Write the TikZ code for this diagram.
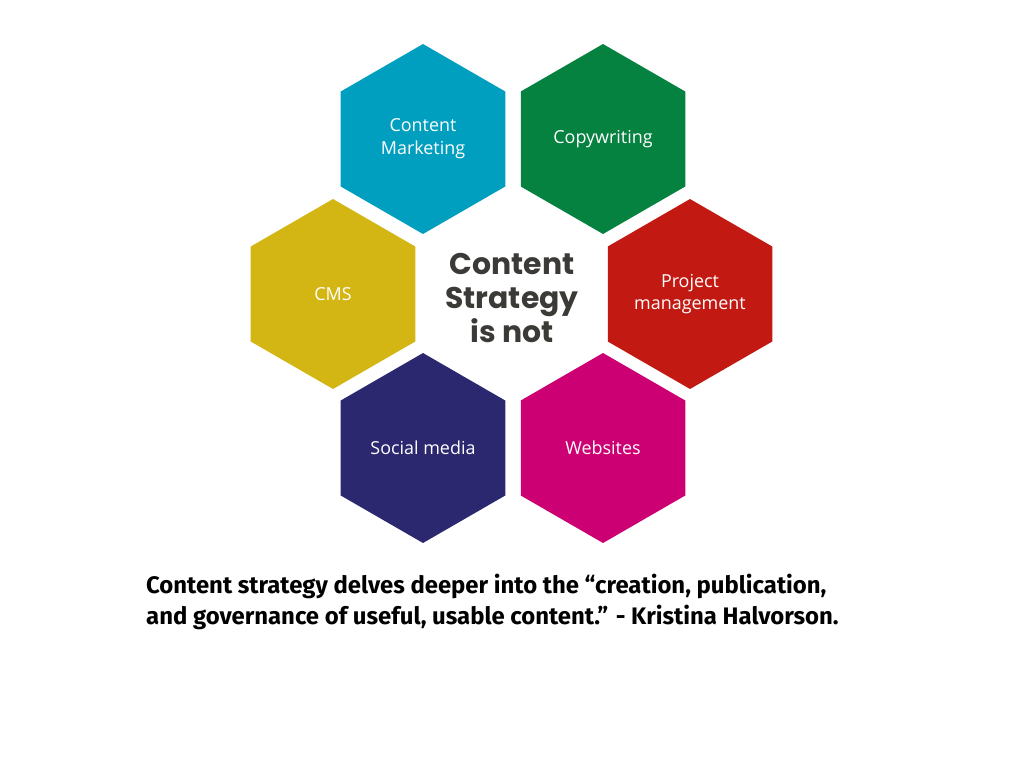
\documentclass[tikz,border=0pt]{standalone}
\usepackage{fontspec}
\setmainfont{Open Sans}
\newfontfamily\headfont{Poppins}
\newfontfamily\quotefont{Fira Sans}
\usetikzlibrary{shapes.geometric}
\definecolor{cmblue}{HTML}{009FC0}
\definecolor{cwgreen}{HTML}{058140}
\definecolor{cmsyellow}{HTML}{D3B513}
\definecolor{pmred}{HTML}{C21913}
\definecolor{smnavy}{HTML}{2B2870}
\definecolor{webpink}{HTML}{CC0072}
\definecolor{headgray}{HTML}{3B3A36}
\tikzset{
  hexcell/.style={regular polygon, regular polygon sides=6, regular polygon rotate=30,
    minimum size=3.8cm, inner sep=0pt, draw=none, fill=#1, text=white,
    align=center, font=\fontsize{10.2}{13}\selectfont}
}
\begin{document}
\begin{tikzpicture}[x=0.02cm, y=-0.02cm]
        \useasboundingbox (0,0) rectangle (1024,768);

        % hexagons round the middle
        \node[hexcell=cmblue] (mkt) at (423,139) {Content\\Marketing};
        \node[hexcell=cwgreen] (copy) at (603,139) {Copywriting};
        \node[hexcell=cmsyellow] (cms) at (333,294) {CMS};
        \node[hexcell=pmred] (proj) at (690,294) {Project\\management};
        \node[hexcell=smnavy] (social) at (423,448) {Social media};
        \node[hexcell=webpink] (web) at (603,448) {Websites};

        % middle title
        \node[align=center, text=headgray, font=\headfont\bfseries\fontsize{17}{19.5}\selectfont] (title) at (512,298) {Content\\Strategy\\is not};

        % quote
        \node[anchor=north west, align=left, font=\quotefont\bfseries\fontsize{13.6}{17.5}\selectfont] (quote) at (140,568)
          {Content strategy delves deeper into the “creation, publication,\\and governance of useful, usable content.” - Kristina Halvorson.};
\end{tikzpicture}
\end{document}
